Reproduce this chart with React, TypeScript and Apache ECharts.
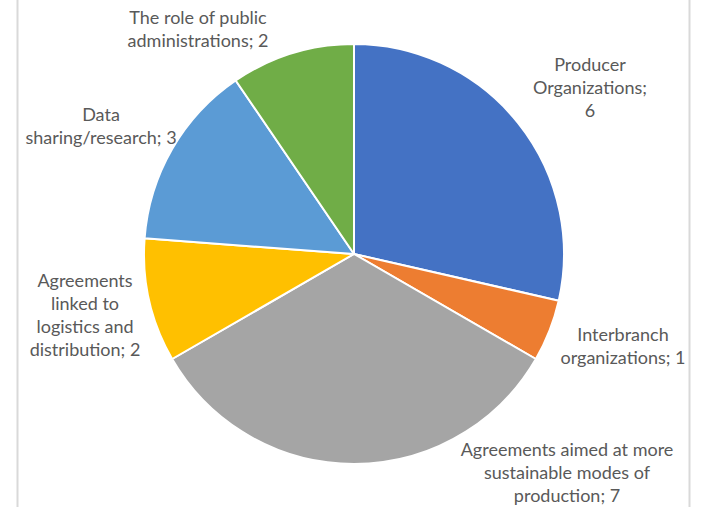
import React, { useEffect, useRef } from "react";
import * as echarts from "echarts";

const categories = [
  "Producer Organizations",
  "Interbranch organizations",
  "Agreements aimed at more sustainable modes of production",
  "Agreements linked to logistics and distribution",
  "Data sharing/research",
  "The role of public administrations",
];
const values = [6, 1, 7, 2, 3, 2];
const colors = ["#4472C4", "#ED7D31", "#A5A5A5", "#FFC000", "#5B9BD5", "#70AD47"];
// word indices before which a label line break occurs
const labelBreaks = [[1, 2], [1], [4, 7], [1, 3, 5], [1], [4]];
// label centres (px) as placed in the reference
const labelCentres = [
  [590, 87],
  [623, 345],
  [567, 472],
  [85, 314],
  [101, 125],
  [198, 28],
];

function wrap(text: string, breaks: number[]) {
  const words = text.split(" ");
  return words
    .map((w, i) => (i === 0 ? w : (breaks.includes(i) ? "\n" : " ") + w))
    .join("");
}

export default function App() {
  const ref = useRef<HTMLDivElement>(null);
  useEffect(() => {
    if (!ref.current) return;
    const chart = echarts.init(ref.current, undefined, { renderer: "svg" });
    chart.setOption({
      animation: false,
      backgroundColor: "#ffffff",
      graphic: [
        { type: "line", shape: { x1: 17.5, y1: 0, x2: 17.5, y2: 507 }, style: { stroke: "#d9d9d9", lineWidth: 2 } },
        { type: "line", shape: { x1: 689.5, y1: 0, x2: 689.5, y2: 507 }, style: { stroke: "#d9d9d9", lineWidth: 2 } },
      ],
      series: [
        {
          type: "pie",
          center: [354, 254],
          radius: 210,
          startAngle: 90,
          clockwise: true,
          avoidLabelOverlap: false,
          itemStyle: { borderColor: "#ffffff", borderWidth: 2 },
          label: {
            show: true,
            position: "outside",
            color: "#595959",
            fontFamily: "Lato",
            fontSize: 18,
            lineHeight: 23,
            align: "center",
            formatter: (p: any) => wrap(`${p.name}; ${p.value}`, labelBreaks[p.dataIndex]),
          },
          labelLine: { show: false },
          labelLayout: (p: any) => ({
            x: labelCentres[p.dataIndex][0],
            y: labelCentres[p.dataIndex][1],
            align: "center",
            verticalAlign: "middle",
          }),
          emphasis: { disabled: true },
          data: categories.map((name, i) => ({
            name,
            value: values[i],
            itemStyle: { color: colors[i] },
          })),
        },
      ],
    });
    return () => chart.dispose();
  }, []);
  return (
    <div
      ref={ref}
      style={{ position: "fixed", left: 0, top: 0, width: 710, height: 507 }}
    />
  );
}
